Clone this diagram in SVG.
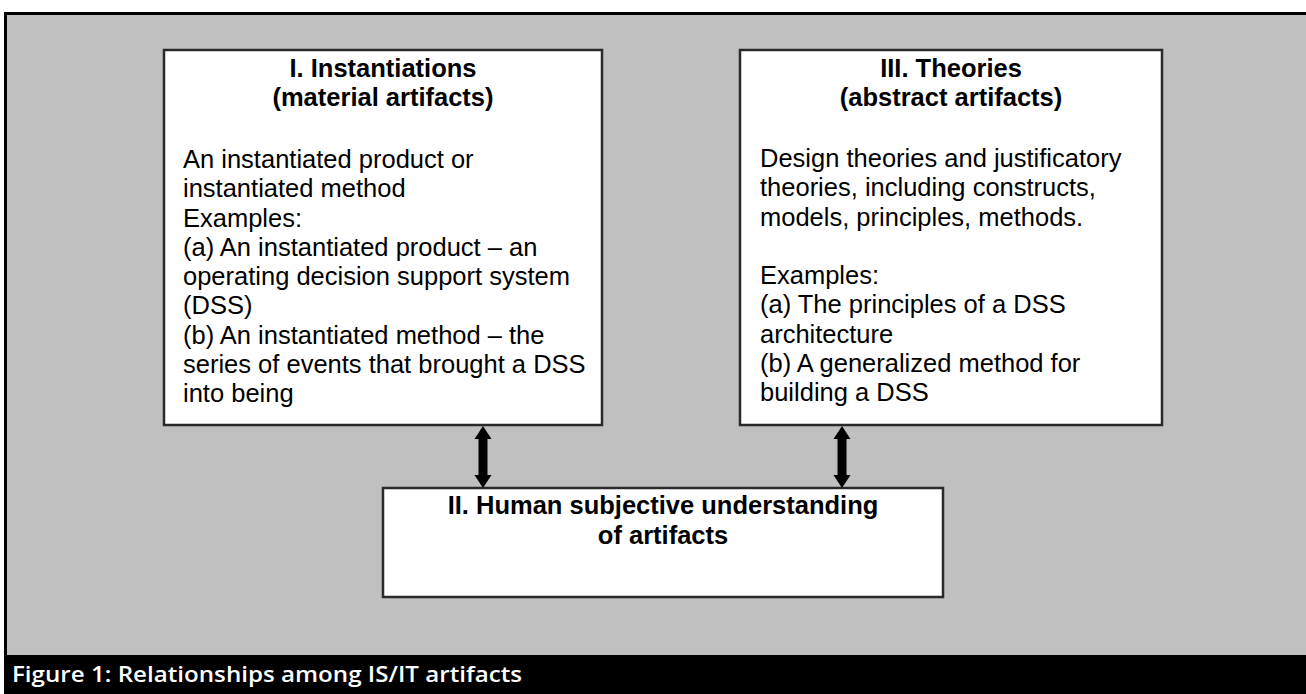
<svg xmlns="http://www.w3.org/2000/svg" width="1306" height="694" viewBox="0 0 1306 694">
<style>
.box{fill:#ffffff;stroke:#2a2a2a;stroke-width:2.5}
.title{font-family:"Liberation Sans",Arial,sans-serif;font-weight:bold;font-size:25.5px;fill:#000;text-anchor:middle}
.body{font-family:"Liberation Sans",Arial,sans-serif;font-size:25.5px;fill:#000}
.cap{font-family:"Open Sans","Liberation Sans",sans-serif;font-weight:600;font-size:22px;fill:#fff}
.conn{stroke:#000;stroke-width:9;fill:none}
</style>
<defs>
<marker id="head" markerUnits="userSpaceOnUse" markerWidth="14" markerHeight="18" refX="0" refY="8.5" orient="auto-start-reverse" viewBox="0 0 14 17">
<path d="M0,0 L13,8.5 L0,17 Z" fill="#000"/>
</marker>
</defs>
<rect x="0" y="0" width="1306" height="694" fill="#ffffff"/>
<rect id="frame" x="5.5" y="13.5" width="1320" height="660" fill="#c0c0c0" stroke="#000" stroke-width="3"/>
<rect x="4" y="655" width="1302" height="39" fill="#000"/>
<text class="cap" x="12" y="682" textLength="510" lengthAdjust="spacingAndGlyphs">Figure 1: Relationships among IS/IT artifacts</text>

<g id="node-instantiations">
<rect class="box" x="164" y="50" width="438" height="375"/>
<text class="title" x="383" y="77">I. Instantiations</text>
<text class="title" x="383" y="106">(material artifacts)</text>
<text class="body" x="183" y="168">An instantiated product or<tspan x="183" dy="29.25">instantiated method</tspan><tspan x="183" dy="29.25">Examples:</tspan><tspan x="183" dy="29.25">(a) An instantiated product – an</tspan><tspan x="183" dy="29.25">operating decision support system</tspan><tspan x="183" dy="29.25">(DSS)</tspan><tspan x="183" dy="29.25">(b) An instantiated method – the</tspan><tspan x="183" dy="29.25">series of events that brought a DSS</tspan><tspan x="183" dy="29.25">into being</tspan></text>
</g>

<g id="node-theories">
<rect class="box" x="740" y="50" width="422" height="375"/>
<text class="title" x="951" y="77">III. Theories</text>
<text class="title" x="951" y="106">(abstract artifacts)</text>
<text class="body" x="760" y="167">Design theories and justificatory<tspan x="760" dy="29.25">theories, including constructs,</tspan><tspan x="760" dy="29.25">models, principles, methods.</tspan><tspan x="760" dy="58.5">Examples:</tspan><tspan x="760" dy="29.25">(a) The principles of a DSS</tspan><tspan x="760" dy="29.25">architecture</tspan><tspan x="760" dy="29.25">(b) A generalized method for</tspan><tspan x="760" dy="29.25">building a DSS</tspan></text>
</g>

<g id="node-human">
<rect class="box" x="383" y="488" width="560" height="109"/>
<text class="title" x="663" y="514">II. Human subjective understanding</text>
<text class="title" x="663" y="544">of artifacts</text>
</g>

<g id="connectors">
<line class="conn" x1="483" y1="439" x2="483" y2="475" marker-start="url(#head)" marker-end="url(#head)"/>
<line class="conn" x1="842" y1="439" x2="842" y2="475" marker-start="url(#head)" marker-end="url(#head)"/>
</g>
</svg>
